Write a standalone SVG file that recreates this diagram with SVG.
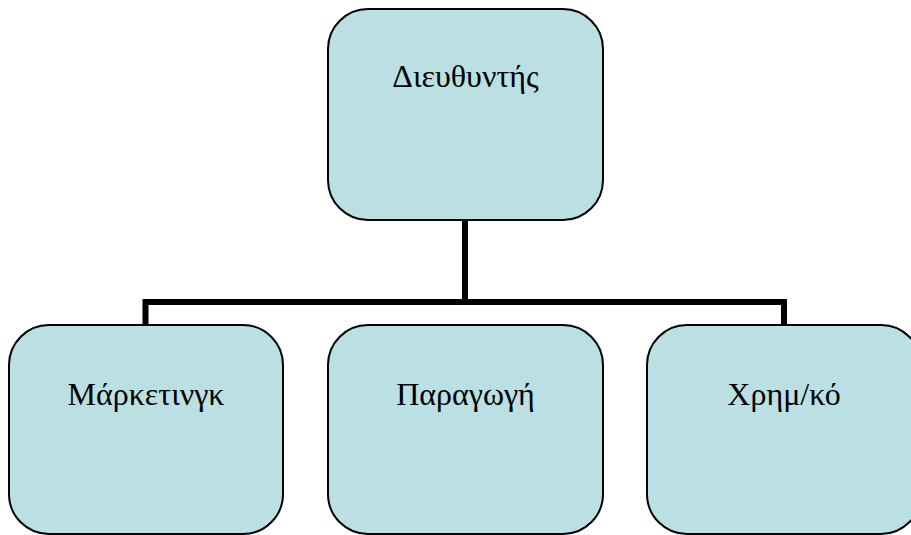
<svg xmlns="http://www.w3.org/2000/svg" width="911" height="535" viewBox="0 0 911 535">
<style>
.box{fill:#bae0e3;stroke:#000;stroke-width:2}
.lbl{font-family:"Liberation Serif","Times New Roman",serif;font-size:32px;fill:#000;text-anchor:middle}
.conn{fill:none;stroke:#000;stroke-width:6}
</style>
<rect width="911" height="535" fill="#fff"/>
<g id="connectors">
<path class="conn" d="M465,220 V302 M145.5,325 V302 H784 V325"/>
</g>
<g id="director">
<rect class="box" x="328" y="9" width="275" height="211" rx="40" ry="40"/>
<text class="lbl" x="465.5" y="87">Διευθυντής</text>
</g>
<g id="marketing">
<rect class="box" x="9" y="325" width="274" height="209" rx="40" ry="40"/>
<text class="lbl" x="146" y="405">Μάρκετινγκ</text>
</g>
<g id="production">
<rect class="box" x="328" y="325" width="275" height="209" rx="40" ry="40"/>
<text class="lbl" x="465.5" y="405">Παραγωγή</text>
</g>
<g id="finance">
<rect class="box" x="647" y="325" width="274" height="209" rx="40" ry="40"/>
<text class="lbl" x="784" y="405">Χρημ/κό</text>
</g>
</svg>
